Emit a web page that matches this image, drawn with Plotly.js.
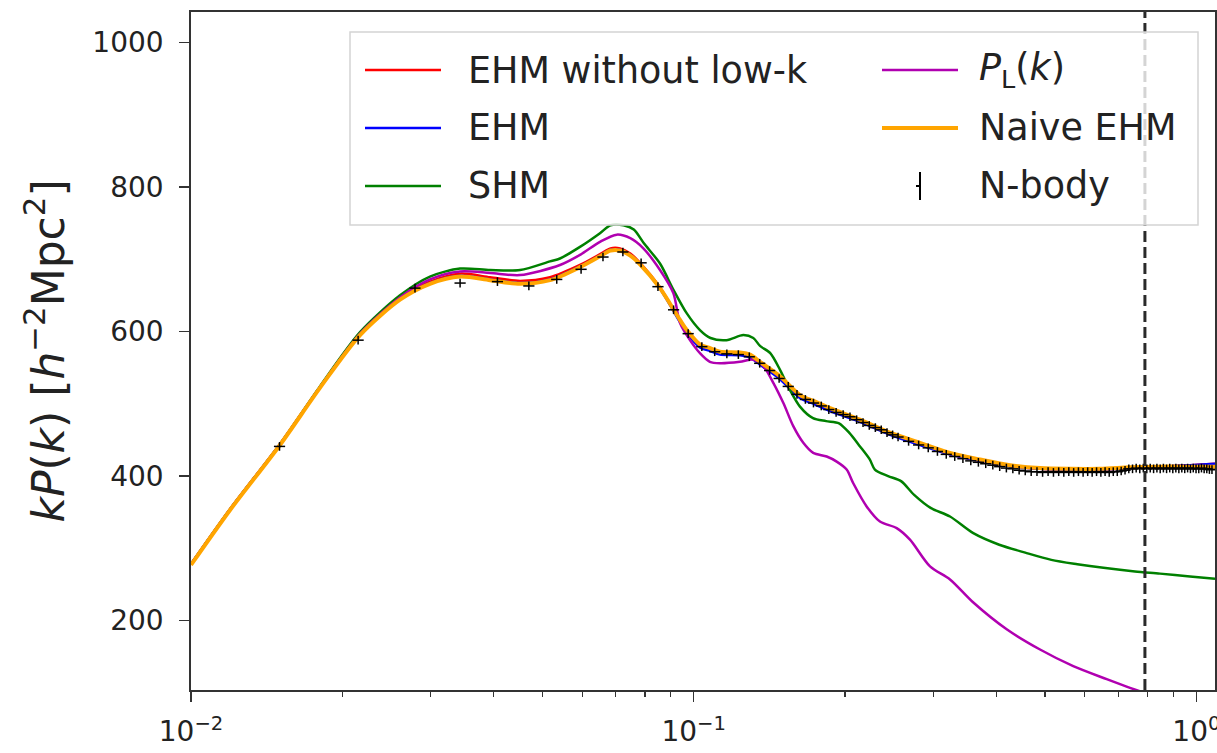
<!DOCTYPE html>
<html>
<head>
<meta charset="utf-8">
<script src="https://cdn.plot.ly/plotly-3.0.1.min.js"></script>
<style>html,body{margin:0;padding:0;background:#fff;}#chart{width:1217px;height:753px;}</style>
</head>
<body>
<div id="chart"></div>
<script>
// ---- data ----
const kCurve = [0.01, 0.01196, 0.01503, 0.01805, 0.02169, 0.02605, 0.02988, 0.03429, 0.03935, 0.04514, 0.05178, 0.0594, 0.06512, 0.0683, 0.07137, 0.0748, 0.0782, 0.0857, 0.09391, 0.0969, 0.1029, 0.1078, 0.1128, 0.1236, 0.1295, 0.1355, 0.1485, 0.1627, 0.1745, 0.1867, 0.2142, 0.2457, 0.2819, 0.3235, 0.3711, 0.4258, 0.4886, 0.5606, 0.6432, 0.7378, 0.8465, 0.9712, 1.089];
const vNaive = [277, 353, 443, 522, 595, 644, 666, 676, 671, 666, 671, 689, 704, 712, 712, 705, 693, 660, 616, 602, 582, 577, 572, 571, 568, 558, 538, 512, 503, 494, 478, 460, 446, 432, 423, 415, 411, 410, 410, 412, 413, 413, 413];
const vNoLowK = [278, 354, 444, 523, 597, 647, 669, 680, 675, 670, 675, 692, 707, 715, 715, 708, 695, 661, 615, 600, 580, 574, 569, 568, 565, 556, 535, 510, 501, 492, 476, 458, 444, 430, 421, 414, 410, 409, 409, 411, 413, 415, 417];
const vEHM = [278, 354, 444, 522, 596, 645, 667, 677, 672, 667, 672, 690, 705, 713, 713, 706, 693, 659, 613, 598, 578, 573, 568, 567, 564, 554, 534, 508, 499, 490, 475, 457, 443, 430, 421, 414, 410, 409, 409, 411, 413, 415, 417];

const kLin = [0.01, 0.01196, 0.01503, 0.01805, 0.02169, 0.02605, 0.02988, 0.03429, 0.03935, 0.04514, 0.0542, 0.0594, 0.0651, 0.0703, 0.0748, 0.0794, 0.0857, 0.0911, 0.0939, 0.0983, 0.1029, 0.1077, 0.1128, 0.1236, 0.1314, 0.1376, 0.1440, 0.1508, 0.1578, 0.1652, 0.1729, 0.1839, 0.1925, 0.2015, 0.2077, 0.2208, 0.2347, 0.2534, 0.2693, 0.2952, 0.3235, 0.3600, 0.4194, 0.4886, 0.5689, 0.6632, 0.7378, 0.8465, 0.9712, 1.089];
const vLin = [278, 354, 444, 523, 597, 647, 672, 683, 681, 678, 692, 706, 724, 734, 729, 715, 685, 653, 612, 588, 570, 558, 556, 558, 561, 552, 529, 501, 469, 446, 432, 427, 420, 409, 390, 358, 337, 328, 312, 275, 257, 225, 188, 160, 137, 119, 107, 93, 80, 70];

const kShm = [0.01, 0.01196, 0.01503, 0.01805, 0.02169, 0.02605, 0.02988, 0.03429, 0.03935, 0.04514, 0.05178, 0.0542, 0.0594, 0.0651, 0.0683, 0.0725, 0.0760, 0.0796, 0.0857, 0.0911, 0.0969, 0.1029, 0.1080, 0.1162, 0.1255, 0.1314, 0.1355, 0.1420, 0.1485, 0.1554, 0.1627, 0.1727, 0.1834, 0.1946, 0.2038, 0.2142, 0.2240, 0.2293, 0.2436, 0.2585, 0.2745, 0.2960, 0.3235, 0.3599, 0.4053, 0.4567, 0.5146, 0.5797, 0.6533, 0.7548, 0.8465, 0.9712, 1.089];
const vShm = [278, 354, 444, 524, 599, 650, 676, 687, 685, 685, 697, 701, 717, 736, 747, 747, 741, 722, 694, 658, 625, 602, 591, 588, 595, 591, 580, 570, 547, 519, 496, 480, 476, 473, 460, 441, 423, 409, 400, 393, 374, 356, 344, 321, 305, 294, 284, 278, 273, 268, 265, 261, 258];

const kNbody = [0.0150, 0.0215, 0.0279, 0.0343, 0.0407, 0.0470, 0.0534, 0.0597, 0.0660, 0.0723, 0.0786, 0.0849, 0.0912, 0.0975, 0.1038, 0.1101, 0.1164, 0.1227, 0.1290, 0.1353, 0.1416, 0.1479, 0.1542, 0.1605, 0.1668, 0.1731, 0.1794, 0.1857, 0.1920, 0.1983, 0.2046, 0.2109, 0.2172, 0.2235, 0.2298, 0.2361, 0.2424, 0.2487, 0.2550,
  0.2676, 0.2802, 0.2928, 0.3054, 0.3180, 0.3306, 0.3432, 0.3558, 0.3684, 0.3810, 0.3936, 0.4062, 0.4188, 0.4314, 0.4440, 0.4566, 0.4692, 0.4818, 0.4944, 0.5070, 0.5196, 0.5322, 0.5448, 0.5574, 0.5700, 0.5826, 0.5952, 0.6078, 0.6204, 0.6330, 0.6456, 0.6582, 0.6708, 0.6834, 0.6960, 0.7086, 0.7212, 0.7338, 0.7464, 0.7590, 0.7716, 0.7842, 0.7968, 0.8094, 0.8220, 0.8346, 0.8472, 0.8598, 0.8724, 0.8850, 0.8976, 0.9102, 0.9228, 0.9354, 0.9480, 0.9606, 0.9732, 0.9858, 0.9984, 1.0110, 1.0236, 1.0362, 1.0488, 1.0614, 1.0740];
const vNbody = [441, 588, 660, 667, 669, 663, 672, 686, 703, 710, 695, 662, 630, 597, 579, 572, 569, 568, 565, 556, 546, 535, 524, 513, 506, 501, 497, 492, 488, 485, 482, 478, 474, 470, 467, 464, 460, 457, 454,
  448, 443, 439, 434, 430, 427, 424, 421, 419, 417, 415, 413, 411, 410, 408, 407, 406, 406, 405, 406, 405, 406, 405, 406, 405, 406, 405, 406, 405, 406, 405, 406, 405, 406, 406, 407, 408, 410, 410, 411, 410, 411, 410, 411, 410, 411, 410, 411, 410, 411, 410, 411, 410, 411, 410, 411, 410, 411, 410, 410, 411, 410, 410, 409, 409];
const nbodyErr = 6;

const kCut = 0.79;
const xRangeK = [0.01, 1.089];
const yRange = [104, 1042];

const seriesNames = ['EHM without low-k', 'EHM', 'SHM', '<i>P</i><sub>L</sub>(<i>k</i>)', 'Naive EHM', 'N-body'];
const seriesColors = ['#ff0000', '#0000ff', '#008000', '#b000b0', '#ffa500', '#000000'];

const xTickVals = [0.01, 0.1, 1];
const xTickText = ['10<sup>\u22122</sup>', '10<sup>\u22121</sup>', '10<sup>0</sup>'];
const xMinorVals = [0.02, 0.03, 0.04, 0.05, 0.06, 0.07, 0.08, 0.09, 0.2, 0.3, 0.4, 0.5, 0.6, 0.7, 0.8, 0.9];
const yTickVals = [200, 400, 600, 800, 1000];
const yTitle = '<i>kP</i>(<i>k</i>) [<i>h</i><sup>\u22122</sup>Mpc<sup>2</sup>]';

// ---- figure ----
const FONT = 'DejaVu Sans, Liberation Sans, sans-serif';
const L = 191, R = 1215, T = 12, B = 690;
const px = x => (x - L) / (R - L);
const py = y => (B - y) / (B - T);
const smooth = {shape: 'spline', smoothing: 0.8};

const traces = [
  {x: kCurve, y: vNoLowK, mode: 'lines', line: Object.assign({color: seriesColors[0], width: 2.5}, smooth)},
  {x: kCurve, y: vEHM, mode: 'lines', line: Object.assign({color: seriesColors[1], width: 2.5}, smooth)},
  {x: kShm, y: vShm, mode: 'lines', line: Object.assign({color: seriesColors[2], width: 2.5}, smooth)},
  {x: kLin, y: vLin, mode: 'lines', line: Object.assign({color: seriesColors[3], width: 2.5}, smooth)},
  {x: kCurve, y: vNaive, mode: 'lines', line: Object.assign({color: seriesColors[4], width: 4}, smooth)},
  {x: kNbody, y: vNbody, mode: 'markers',
   marker: {symbol: 'line-ew', size: 8, color: '#000', line: {width: 1.5, color: '#000'}},
   error_y: {type: 'constant', value: nbodyErr, thickness: 1.5, width: 0, color: '#000'}},
  {x: [kCut, kCut], y: yRange, mode: 'lines', line: {color: '#2a2a2a', width: 3, dash: '11px,5px'}}
].map(t => Object.assign(t, {showlegend: false, hoverinfo: 'skip', cliponaxis: true}));

// custom two-column legend (matplotlib style)
const legBox = {x0: 350, x1: 1198, y0: 32, y1: 225};
const rows = [70, 128, 186];
const colLine = [[365, 441], [882, 958]];
const colText = [466, 977];
const shapes = [{
  type: 'rect', xref: 'paper', yref: 'paper', layer: 'above',
  x0: px(legBox.x0), x1: px(legBox.x1), y0: py(legBox.y1), y1: py(legBox.y0),
  fillcolor: 'rgba(255,255,255,0.8)', line: {color: '#d4d4d4', width: 1.5}
}];
const annotations = [];
[0, 1, 2, 3, 4, 5].forEach((s, i) => {
  const col = Math.floor(i / 3), row = i % 3;
  const yy = rows[row];
  if (s === 5) {
    const xc = (colLine[col][0] + colLine[col][1]) / 2;
    shapes.push({type: 'line', xref: 'paper', yref: 'paper', layer: 'above',
      x0: px(xc), x1: px(xc), y0: py(yy - 14), y1: py(yy + 14), line: {color: '#000', width: 2}});
    shapes.push({type: 'line', xref: 'paper', yref: 'paper', layer: 'above',
      x0: px(xc - 4), x1: px(xc), y0: py(yy), y1: py(yy), line: {color: '#000', width: 2}});
  } else {
    shapes.push({type: 'line', xref: 'paper', yref: 'paper', layer: 'above',
      x0: px(colLine[col][0]), x1: px(colLine[col][1]), y0: py(yy), y1: py(yy),
      line: {color: seriesColors[s], width: s === 4 ? 4 : 2.5}});
  }
  annotations.push({xref: 'paper', yref: 'paper', x: px(colText[col]), y: py(yy),
    xanchor: 'left', yanchor: 'middle', showarrow: false, text: seriesNames[s],
    font: {family: FONT, size: 36.5, color: '#222'}});
});

const layout = {
  width: 1217, height: 753,
  margin: {l: L, r: 1217 - R, t: T, b: 753 - B, pad: 0},
  paper_bgcolor: '#fff', plot_bgcolor: '#fff',
  showlegend: false,
  font: {family: FONT, color: '#222'},
  xaxis: {
    type: 'log', range: [Math.log10(xRangeK[0]), Math.log10(xRangeK[1])],
    tickmode: 'array', tickvals: xTickVals, ticktext: xTickText,
    ticks: 'outside', ticklen: 10, tickwidth: 1.5, tickcolor: '#333',
    tickfont: {family: FONT, size: 28, color: '#222'},
    ticklabeloverflow: 'allow',
    minor: {tickmode: 'array', tickvals: xMinorVals, ticks: 'outside', ticklen: 5, tickwidth: 1.2, tickcolor: '#333'},
    showline: true, linecolor: '#333', linewidth: 1.8, mirror: true,
    showgrid: false, zeroline: false, ticklabelstandoff: 6
  },
  yaxis: {
    range: yRange, tickmode: 'array', tickvals: yTickVals,
    ticks: 'outside', ticklen: 10, tickwidth: 1.5, tickcolor: '#333',
    tickfont: {family: FONT, size: 28, color: '#222'},
    showline: true, linecolor: '#333', linewidth: 1.8, mirror: true,
    showgrid: false, zeroline: false, ticklabelstandoff: 10,
    title: {text: yTitle, font: {family: FONT, size: 44, color: '#222'}, standoff: 14}
  },
  shapes: shapes,
  annotations: annotations
};

Plotly.newPlot('chart', traces, layout, {staticPlot: true, displayModeBar: false});
</script>
</body>
</html>
